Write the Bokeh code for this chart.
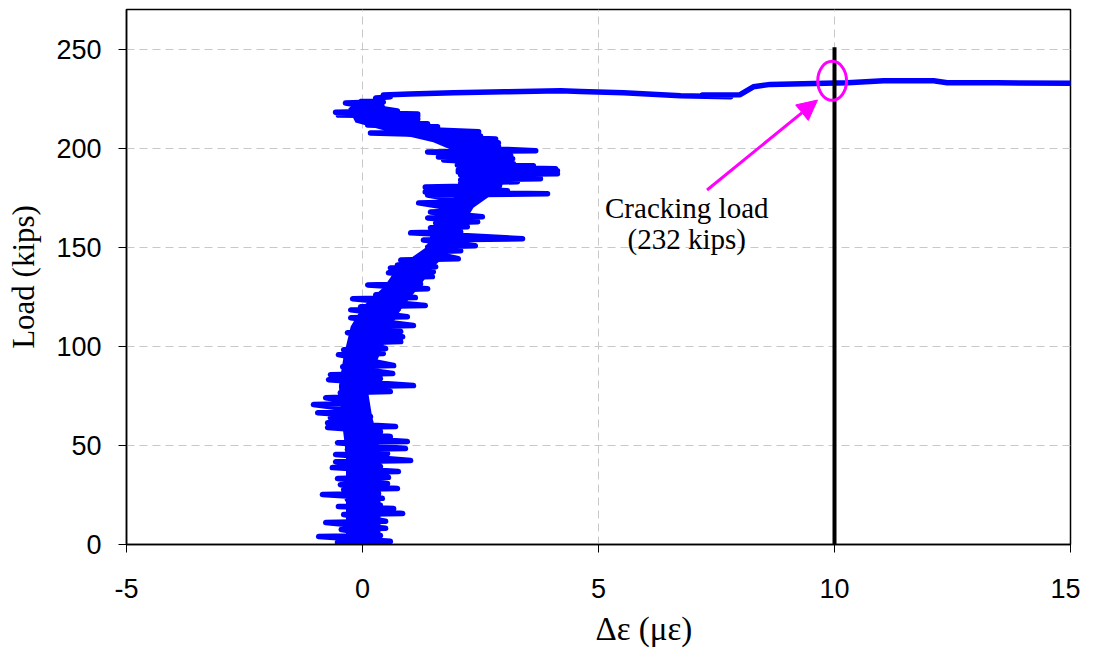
from bokeh.plotting import figure
from bokeh.models import Range1d, Arrow, NormalHead, Label, FixedTicker
from bokeh.embed import file_html
from bokeh.resources import INLINE

# ---- data ----
# load levels (kips) of the jagged trace, with left / right strain excursions (micro-strain)
load_levels = [1.0, 4.0, 7.6, 11.1, 15.1, 17.6, 19.2, 22.7, 25.2, 27.7, 30.2, 33.3, 36.3, 38.8,
               41.8, 45.4, 47.9, 51.4, 53.9, 56.5, 59.0, 61.5, 64.0, 66.5, 70.6, 74.1, 76.6, 79.6,
               83.2, 85.7, 89.7, 95.8, 98.3, 101.8, 104.3, 106.9, 109.9, 114.4, 118.4, 120.0, 124.0,
               126.0, 128.5, 131.0, 134.6, 137.1, 139.6, 141.1, 143.6, 147.7, 150.2, 153.7, 157.3,
               159.8, 162.3, 164.8, 167.8, 172.4, 176.4, 177.9, 180.4, 182.5, 184.0, 186.5, 188.0,
               189.0, 190.5, 191.5, 194.1, 195.6, 198.1, 200.6, 202.1, 204.1, 205.6, 207.7, 210.2,
               211.7, 214.2, 215.7, 216.7, 218.2, 222.8, 225.3]
strain_left = [-0.53, -0.93, -0.45, -0.78, -0.40, -0.04, -0.51, -0.32, -0.85, -0.40, -0.47, -0.53,
               -0.25, -0.64, -0.57, -0.57, -0.32, -0.53, -0.32, -0.32, -0.74, -0.74, -0.68, -0.95,
               -1.04, -0.78, -0.47, -0.42, -0.72, -0.68, -0.42, -0.51, -0.40, -0.04, -0.19, -0.32,
               -0.15, -0.25, -0.25, -0.04, -0.21, 0.28, 0.53, 0.11, 0.66, 0.55, 0.59, 0.74, 0.81,
               1.38, 1.38, 1.29, 1.02, 1.44, 1.55, 1.38, 1.44, 1.19, 1.38, 1.33, 1.33, 2.08, 2.08,
               2.08, 2.03, 2.03, 2.22, 2.01, 1.72, 1.61, 1.38, 2.08, 1.93, 1.82, 1.69, 0.17, 0.49,
               0.11, -0.04, 0.11, -0.51, -0.57, -0.36, 0.28]
strain_right = [0.59, 0.38, 0.49, 0.49, 0.85, 0.66, 0.38, 0.42, 0.34, 0.74, 0.53, 0.55, 0.76, 0.38,
                1.02, 0.53, 0.91, 0.95, 0.59, 0.38, 0.70, 0.17, 0.17, 0.11, 0.06, 0.02, 0.59, 1.08,
                0.38, 0.64, 0.66, 0.44, 0.49, 0.81, 0.85, 0.81, 1.08, 0.95, 0.76, 1.33, 1.12, 0.91,
                1.38, 1.23, 1.48, 1.50, 1.55, 1.50, 2.03, 2.08, 2.39, 3.39, 2.08, 2.22, 2.44, 2.54,
                2.22, 2.22, 3.92, 3.07, 2.71, 3.28, 3.77, 4.13, 4.13, 4.09, 3.62, 3.20, 3.18, 3.14,
                3.67, 2.88, 2.88, 2.82, 2.50, 2.46, 1.59, 1.38, 1.17, 1.17, 1.17, 0.74, 0.44, 0.59]
# dense, solid core of the trace (where the readings overlap completely)
core_load = [0, 20, 45, 65, 80, 95, 110, 120, 130, 140, 150, 160, 170, 180, 190, 198, 203, 208,
             213, 220, 225]
core_left = [-0.35, -0.35, -0.35, -0.45, -0.50, -0.40, -0.25, 0.00, 0.45, 0.75, 1.35, 1.50, 1.70,
             2.15, 2.25, 2.00, 1.50, 0.60, -0.15, -0.30, -0.05]
core_right = [0.38, 0.38, 0.40, 0.20, 0.10, 0.35, 0.60, 0.85, 1.20, 1.50, 1.95, 2.10, 2.35, 2.95,
              3.05, 2.75, 2.30, 1.50, 0.80, 0.50, 0.40]
# near-horizontal run after cracking
top_strain = [0.44, 1.0, 1.93, 3.0, 4.2, 4.62, 5.53, 6.74, 7.8, 7.2, 8.0, 8.28, 8.64, 9.56, 10.28,
              11.04, 12.10, 12.39, 13.45, 15.2]
top_load = [226.8, 227.3, 228.0, 228.5, 229.0, 228.6, 228.0, 226.5, 226.0, 226.8, 227.0, 231.0,
            232.2, 232.7, 233.0, 234.0, 234.0, 233.0, 233.0, 232.7]

cracking_line_x = [10, 10]
cracking_line_y = [0, 251]
marker_x = [9.95]
marker_y = [234]
x_ticks = [-5, 0, 5, 10, 15]
y_ticks = [0, 50, 100, 150, 200, 250]
note_lines = ["Cracking load", "(232 kips)"]
note_x = 6.87
note_y = [170.0, 154.0]
arrow_from = (7.30, 178.9)
arrow_to = (9.64, 224.3)

# ---- build the trace path ----
xs, ys = [], []
for lv, l, r in zip(load_levels, strain_left, strain_right):
    xs += [l, r]
    ys += [lv, lv + 0.6]
xs += top_strain
ys += top_load

p = figure(frame_width=944, frame_height=535,
           x_range=Range1d(-5, 15), y_range=Range1d(0, 270),
           output_backend="svg", toolbar_location=None,
           min_border_left=126, min_border_right=10, min_border_top=9, min_border_bottom=100)

p.background_fill_color = "white"
p.border_fill_color = "white"
p.outline_line_color = "black"
p.outline_line_width = 1.5

blue = "#0000FF"
p.harea(y=core_load, x1=core_left, x2=core_right, fill_color=blue)
p.line(xs, ys, line_color=blue, line_width=5.5, line_join="round", line_cap="round")
p.line(cracking_line_x, cracking_line_y, line_color="black", line_width=4)
p.ellipse(x=marker_x, y=marker_y, width=0.61, height=19.7, fill_alpha=0,
          line_color="#FF00FF", line_width=3)

p.add_layout(Arrow(end=NormalHead(size=20, fill_color="#FF00FF", line_color="#FF00FF"),
                   x_start=arrow_from[0], y_start=arrow_from[1],
                   x_end=arrow_to[0], y_end=arrow_to[1],
                   line_color="#FF00FF", line_width=3))

for txt, ty in zip(note_lines, note_y):
    p.add_layout(Label(x=note_x, y=ty, text=txt, text_align="center", text_baseline="alphabetic",
                       text_font="Liberation Serif", text_font_size="29px", text_color="black"))

p.xaxis.ticker = FixedTicker(ticks=x_ticks)
p.yaxis.ticker = FixedTicker(ticks=y_ticks)
p.xaxis.major_label_overrides = {t: str(t) for t in x_ticks}
# non-breaking spaces push the title right of the frame centre, as in the reference
p.xaxis.axis_label = "\u00a0" * 11 + "Δε (με)"
p.yaxis.axis_label = "Load (kips)"
for ax in (p.xaxis, p.yaxis):
    ax.axis_label_text_font = "Liberation Serif"
    ax.axis_label_text_font_style = "normal"
    ax.axis_label_text_color = "black"
    ax.major_label_text_font = "Liberation Sans"
    ax.major_label_text_font_size = "27px"
    ax.major_label_text_color = "black"
    ax.axis_line_color = "black"
    ax.axis_line_width = 1.5
    ax.major_tick_line_color = "black"
    ax.major_tick_out = 8
    ax.major_tick_in = 0
    ax.minor_tick_line_color = None
p.xaxis.axis_label_text_font_size = "33px"
p.yaxis.axis_label_text_font_size = "31px"
p.xaxis.major_label_standoff = 26
p.yaxis.major_label_standoff = 17
p.xaxis.axis_label_standoff = 10
p.yaxis.axis_label_standoff = 12

for g in (p.xgrid, p.ygrid):
    g.grid_line_color = "#c8c8c8"
    g.grid_line_dash = "8 5"
    g.grid_line_width = 1

open("out.html", "w").write(file_html(p, INLINE))
